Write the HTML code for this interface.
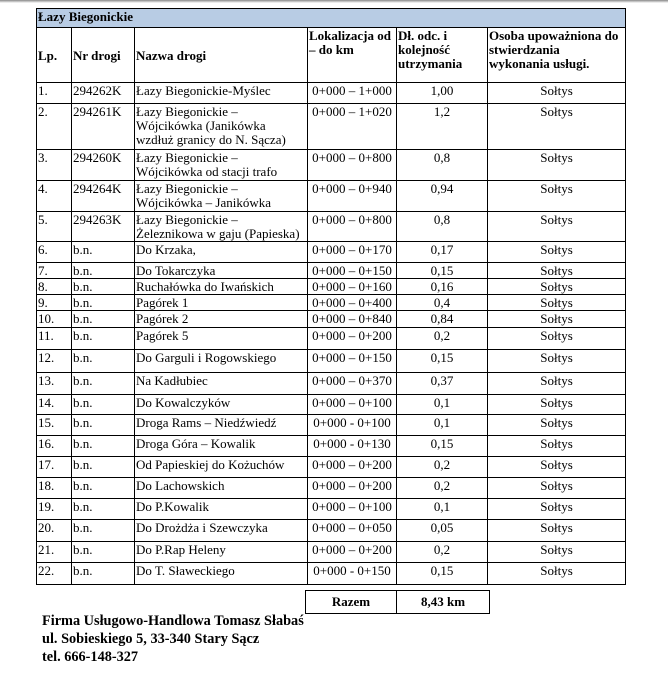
<!DOCTYPE html>
<html><head><meta charset="utf-8"><style>
body{margin:0;width:668px;height:680px;background:#fff;position:relative;overflow:hidden;font-family:"Liberation Serif",serif;color:#000}
.top{position:absolute;left:0;top:0;width:668px;height:3px;background:linear-gradient(#888,#fff)}
table{position:absolute;left:36px;top:8px;border-collapse:collapse;table-layout:fixed;width:589px}
td{border:1px solid #000;font-size:13px;line-height:14px;padding:1px 1px 0 1px;vertical-align:top;overflow:hidden;white-space:nowrap}
td.w{white-space:normal}
.c{text-align:center}
.h td{font-weight:bold}
.blue td{background:#b8cce4;font-weight:bold;height:17px}
.box{position:absolute;left:305px;top:590px;width:185px;height:24px;border:1px solid #000;box-sizing:border-box;font-weight:bold;font-size:13px}
.box div{position:absolute;top:4px;text-align:center}
.f{position:absolute;left:42px;font-weight:bold;font-size:14.3px}
</style></head><body>
<div class="top"></div>
<table>
<colgroup><col style="width:35px"><col style="width:63px"><col style="width:173px"><col style="width:89px"><col style="width:91px"><col style="width:138px"></colgroup>
<tr class="blue"><td colspan="6">Łazy Biegonickie</td></tr>
<tr class="h" style="height:55px"><td style="vertical-align:middle">Lp.</td><td style="vertical-align:middle">Nr drogi</td><td style="vertical-align:middle">Nazwa drogi</td><td>Lokalizacja od<br>– do km</td><td>Dł. odc. i<br>kolejność<br>utrzymania</td><td>Osoba upoważniona do<br>stwierdzania<br>wykonania usługi.</td></tr>
<tr style="height:21px"><td>1.</td><td>294262K</td><td>Łazy Biegonickie-Myślec</td><td class="c">0+000 – 1+000</td><td class="c">1,00</td><td class="c">Sołtys</td></tr>
<tr style="height:46px"><td>2.</td><td>294261K</td><td class="w">Łazy Biegonickie – Wójcikówka (Janikówka wzdłuż granicy do N. Sącza)</td><td class="c">0+000 – 1+020</td><td class="c">1,2</td><td class="c">Sołtys</td></tr>
<tr style="height:31px"><td>3.</td><td>294260K</td><td class="w">Łazy Biegonickie – Wójcikówka od stacji trafo</td><td class="c">0+000 – 0+800</td><td class="c">0,8</td><td class="c">Sołtys</td></tr>
<tr style="height:31px"><td>4.</td><td>294264K</td><td class="w">Łazy Biegonickie – Wójcikówka – Janikówka</td><td class="c">0+000 – 0+940</td><td class="c">0,94</td><td class="c">Sołtys</td></tr>
<tr style="height:29px"><td>5.</td><td>294263K</td><td class="w">Łazy Biegonickie – Żeleznikowa w gaju (Papieska)</td><td class="c">0+000 – 0+800</td><td class="c">0,8</td><td class="c">Sołtys</td></tr>
<tr style="height:21px"><td>6.</td><td>b.n.</td><td>Do Krzaka,</td><td class="c">0+000 – 0+170</td><td class="c">0,17</td><td class="c">Sołtys</td></tr>
<tr style="height:15px"><td>7.</td><td>b.n.</td><td>Do Tokarczyka</td><td class="c">0+000 – 0+150</td><td class="c">0,15</td><td class="c">Sołtys</td></tr>
<tr style="height:16px"><td>8.</td><td>b.n.</td><td>Ruchałówka do Iwańskich</td><td class="c">0+000 – 0+160</td><td class="c">0,16</td><td class="c">Sołtys</td></tr>
<tr style="height:15px"><td>9.</td><td>b.n.</td><td>Pagórek 1</td><td class="c">0+000 – 0+400</td><td class="c">0,4</td><td class="c">Sołtys</td></tr>
<tr style="height:17px"><td>10.</td><td>b.n.</td><td>Pagórek 2</td><td class="c">0+000 – 0+840</td><td class="c">0,84</td><td class="c">Sołtys</td></tr>
<tr style="height:22px"><td>11.</td><td>b.n.</td><td>Pagórek 5</td><td class="c">0+000 – 0+200</td><td class="c">0,2</td><td class="c">Sołtys</td></tr>
<tr style="height:23px"><td>12.</td><td>b.n.</td><td>Do Garguli i Rogowskiego</td><td class="c">0+000 – 0+150</td><td class="c">0,15</td><td class="c">Sołtys</td></tr>
<tr style="height:22px"><td>13.</td><td>b.n.</td><td>Na Kadłubiec</td><td class="c">0+000 – 0+370</td><td class="c">0,37</td><td class="c">Sołtys</td></tr>
<tr style="height:20px"><td>14.</td><td>b.n.</td><td>Do Kowalczyków</td><td class="c">0+000 – 0+100</td><td class="c">0,1</td><td class="c">Sołtys</td></tr>
<tr style="height:21px"><td>15.</td><td>b.n.</td><td>Droga Rams – Niedźwiedź</td><td class="c">0+000 - 0+100</td><td class="c">0,1</td><td class="c">Sołtys</td></tr>
<tr style="height:21px"><td>16.</td><td>b.n.</td><td>Droga Góra – Kowalik</td><td class="c">0+000 - 0+130</td><td class="c">0,15</td><td class="c">Sołtys</td></tr>
<tr style="height:21px"><td>17.</td><td>b.n.</td><td>Od Papieskiej do Kożuchów</td><td class="c">0+000 – 0+200</td><td class="c">0,2</td><td class="c">Sołtys</td></tr>
<tr style="height:21px"><td>18.</td><td>b.n.</td><td>Do Lachowskich</td><td class="c">0+000 – 0+200</td><td class="c">0,2</td><td class="c">Sołtys</td></tr>
<tr style="height:21px"><td>19.</td><td>b.n.</td><td>Do P.Kowalik</td><td class="c">0+000 – 0+100</td><td class="c">0,1</td><td class="c">Sołtys</td></tr>
<tr style="height:22px"><td>20.</td><td>b.n.</td><td>Do Drożdża i Szewczyka</td><td class="c">0+000 – 0+050</td><td class="c">0,05</td><td class="c">Sołtys</td></tr>
<tr style="height:21px"><td>21.</td><td>b.n.</td><td>Do P.Rap Heleny</td><td class="c">0+000 – 0+200</td><td class="c">0,2</td><td class="c">Sołtys</td></tr>
<tr style="height:22px"><td>22.</td><td>b.n.</td><td>Do T. Sławeckiego</td><td class="c">0+000 - 0+150</td><td class="c">0,15</td><td class="c">Sołtys</td></tr>
</table>
<div class="box"><div style="left:0;width:90px;border-right:1px solid #000;top:0;height:22px;line-height:22px">Razem</div><div style="left:90px;width:94px;top:0;line-height:22px">8,43 km</div></div>
<div class="f" style="top:613px">Firma Usługowo-Handlowa Tomasz Słabaś</div>
<div class="f" style="top:631px">ul. Sobieskiego 5, 33-340 Stary Sącz</div>
<div class="f" style="top:649px">tel. 666-148-327</div>
</body></html>
